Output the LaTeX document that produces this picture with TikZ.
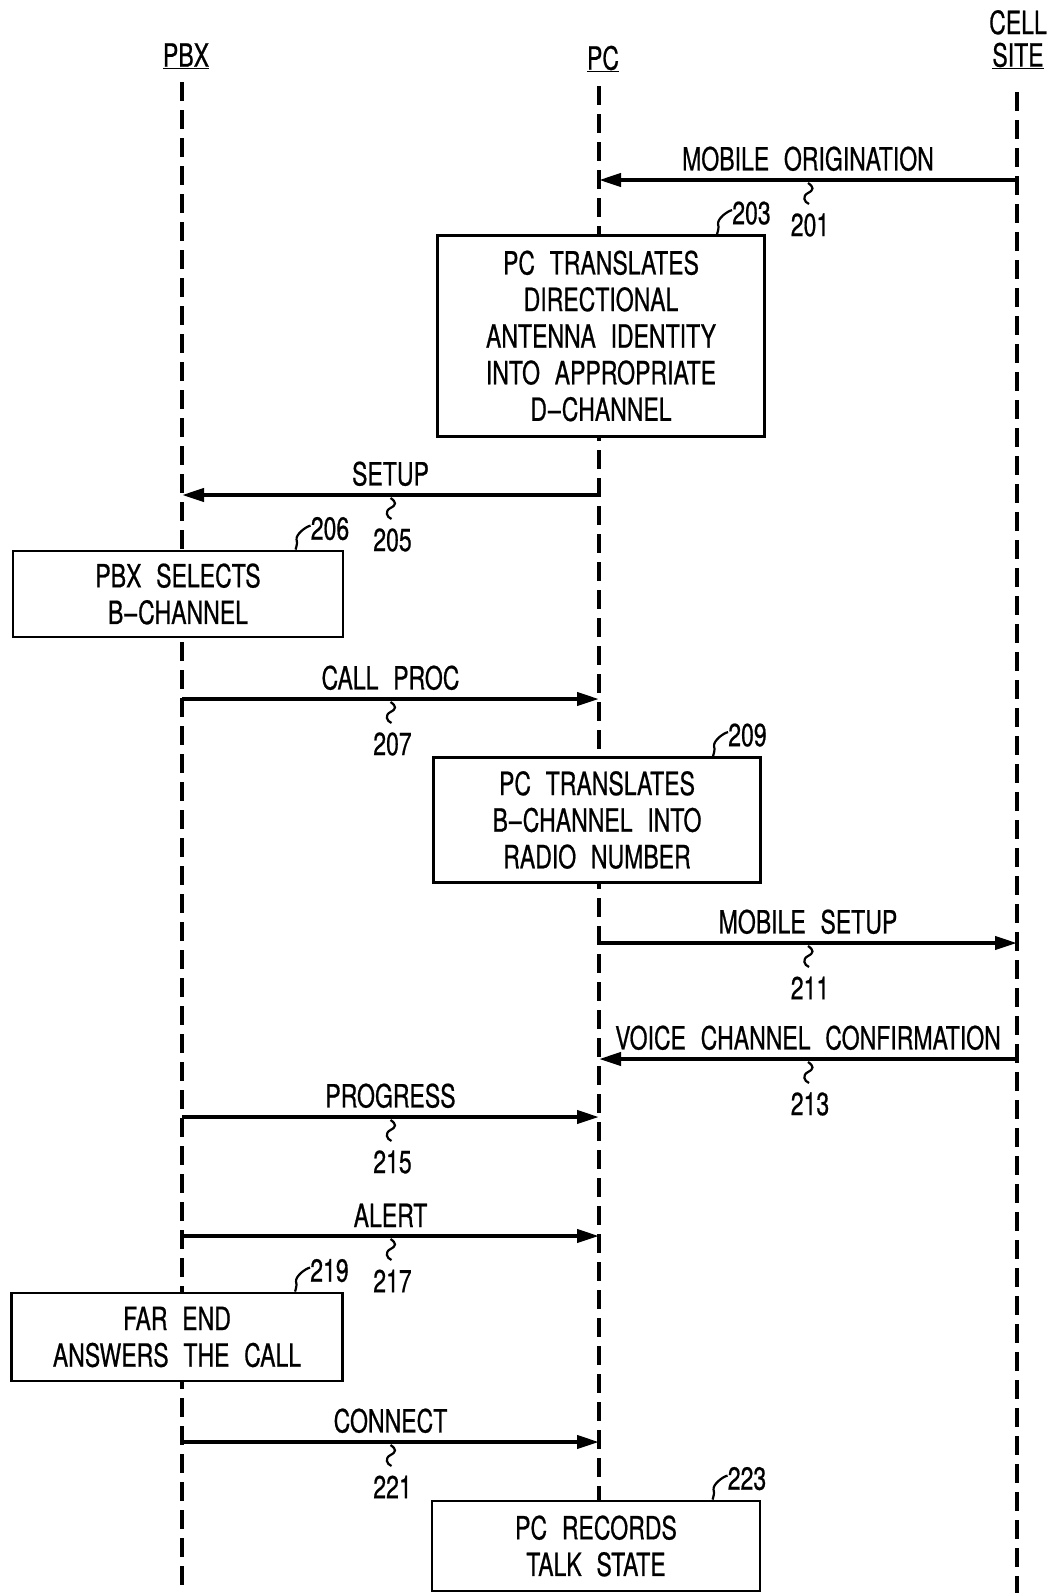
\documentclass[tikz,border=0pt]{standalone}
\usepackage{fontspec}
\setmainfont{TeX Gyre Heros}[FakeStretch=0.72,WordSpace=2.3,FakeBold=0.6]
\usetikzlibrary{arrows.meta,calc,positioning}
\tikzset{
  life line/.style={line width=3.5pt, dash pattern=on 19pt off 9pt},
  msg/.style={line width=4pt, -{Triangle[length=22pt,width=13pt]}},
  step box/.style={draw, line width=2.8pt, fill=white, align=center,
    inner sep=0pt, minimum width=327pt},
  msg text/.style={above=7pt, inner sep=0pt},
  lead/.style={line width=2.2pt}
}
% small wavy leader under a message arrow
\newcommand{\squig}[1]{%
  \draw[lead] (#1) ++(0,3) .. controls +(6,4) and +(6,-3) .. ++(0,10)
    .. controls +(-6,3) and +(-5,-2) .. ++(1,11);}
% hooked leader from a box to its number
\newcommand{\hook}[2]{%
  \draw[lead] (#1) .. controls +(1,-4) and +(1,4) .. ++(1,-10)
    .. controls +(-1,-5) and +(-5,1) .. (#2);}

\begin{document}
\begin{tikzpicture}[x=1pt, y=-1pt, font=\fontsize{32}{36.6}\selectfont]
\useasboundingbox (0,0) rectangle (1051,1593);

% headers
\node (pbx) at (186,56) {\underline{PBX}};
\node (pc) at (603,59) {\underline{PC}};
\node (cell) at (1018,43) {\begin{tabular}{@{}c@{}}CELL\\[-4pt]\underline{SITE}\end{tabular}};

% life lines
\coordinate (pbx end) at (182,1593);
\coordinate (pc end) at (599,1593);
\coordinate (cell end) at (1017,1593);
\draw[life line] (182,82) -- (pbx end);
\draw[life line] (599,86) -- (pc end);
\draw[life line] (1017,92) -- (cell end);

% processing boxes
\node[step box, minimum height=201pt] (b203) at (601,336)
  {PC TRANSLATES\\DIRECTIONAL\\ANTENNA IDENTITY\\INTO APPROPRIATE\\D\kern1pt--\kern1pt CHANNEL};
\node[step box, minimum height=86pt, minimum width=330pt] (b206) at (178,594)
  {PBX SELECTS\\B\kern1pt--\kern1pt CHANNEL};
\node[step box, minimum height=125pt] (b209) at (597,820)
  {PC TRANSLATES\\B\kern1pt--\kern1pt CHANNEL INTO\\RADIO NUMBER};
\node[step box, minimum height=88pt, minimum width=331pt] (b219) at (177,1337)
  {FAR END\\ANSWERS THE CALL};
\node[step box, minimum height=90pt, minimum width=328pt] (b223) at (596,1546)
  {PC RECORDS\\TALK STATE};

% box numbers
\foreach \b in {203,206,209,219,223}{
  \node[anchor=east, inner sep=0pt] (n\b) at ($(b\b.north east)+(5,-21)$) {\b};
  \hook{$(n\b.west |- b\b.north)+(-15,0)$}{$(n\b.west)+(0,-3)$}
}

% message end points
\coordinate (a201) at (1017,180);  \coordinate (b201) at (599,180);
\coordinate (a205) at (599,495);   \coordinate (b205) at (182,495);
\coordinate (a207) at (182,699);   \coordinate (b207) at (599,699);
\coordinate (a211) at (599,943);   \coordinate (b211) at (1017,943);
\coordinate (a213) at (1017,1059); \coordinate (b213) at (599,1059);
\coordinate (a215) at (182,1117);  \coordinate (b215) at (599,1117);
\coordinate (a217) at (182,1236);  \coordinate (b217) at (599,1236);
\coordinate (a221) at (182,1442);  \coordinate (b221) at (599,1442);

% messages
\draw[msg] (a201) -- (b201) node[midway, msg text] {MOBILE ORIGINATION} coordinate[midway] (m201);
\draw[msg] (a205) -- (b205) node[midway, msg text] {SETUP} coordinate[midway] (m205);
\draw[msg] (a207) -- (b207) node[midway, msg text] {CALL PROC} coordinate[midway] (m207);
\draw[msg] (a211) -- (b211) node[midway, msg text] {MOBILE SETUP} coordinate[midway] (m211);
\draw[msg] (a213) -- (b213) node[midway, msg text] {VOICE CHANNEL CONFIRMATION} coordinate[midway] (m213);
\draw[msg] (a215) -- (b215) node[midway, msg text] {PROGRESS} coordinate[midway] (m215);
\draw[msg] (a217) -- (b217) node[midway, msg text] {ALERT} coordinate[midway] (m217);
\draw[msg] (a221) -- (b221) node[midway, msg text] {CONNECT} coordinate[midway] (m221);

% message numbers
\foreach \m in {201,205,207,211,213,215,217,221}{
  \squig{m\m}
  \node[inner sep=0pt] (n\m) at ($(m\m)+(2,45)$) {\m};
}
\end{tikzpicture}
\end{document}
